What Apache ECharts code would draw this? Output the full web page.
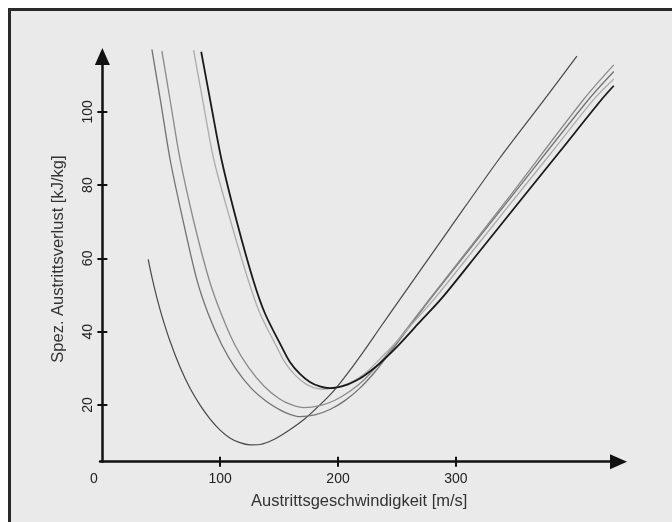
<!DOCTYPE html>
<html>
<head>
<meta charset="utf-8">
<script src="https://cdn.jsdelivr.net/npm/echarts@6/dist/echarts.min.js"></script>
<style>
html,body{margin:0;padding:0;background:#ffffff;}
#chart{width:672px;height:522px;}
</style>
</head>
<body>
<div id="chart"></div>
<script>
// ---- Data ----
var xTickLabels = [0, 100, 200, 300];
var xTickValues = [100, 200, 300];
var yTickLabels = [20, 40, 60, 80, 100];

var xTitle = 'Austrittsgeschwindigkeit [m/s]';
var yTitle = 'Spez. Austrittsverlust [kJ/kg]';

// Curve A (dark gray, lowest minimum ~9)
var curveA = [[38.9,59.75],[42.6,54.1],[46.3,49.2],[50.5,44.3],[57.3,37.5],[65.8,30.4],[74.3,24.6],[82.8,20.0],[91.3,16.2],[99.7,13.2],[108.2,11.0],[116.7,9.7],[125.2,9.1],[133.7,9.2],[146.4,10.7],[159.1,13.2],[171.8,16.2],[184.6,20.0],[197.3,24.2],[210.0,29.4],[222.8,35.1],[235.5,41.0],[252.5,48.8],[294.9,68.2],[337.3,87.4],[374.7,103.2],[402.7,115.2]];
// Curve B (mid gray, minimum ~17)
var curveB = [[42.04,117.05],[49.68,102.4],[57.57,86.85],[68.35,70.48],[80.23,54.11],[89.56,45.1],[101.44,36.37],[113.32,29.82],[126.05,24.64],[138.78,21.09],[151.51,18.5],[159.14,17.41],[167.63,16.78],[180.36,17.27],[193.08,18.74],[205.81,21.17],[218.54,24.58],[231.27,28.98],[239.75,32.44],[252.48,37.87],[277.94,48.76],[344.97,75.94],[412.26,103.22],[434.0,111.0]];
// Curve C (gray, minimum ~19)
var curveC = [[50.53,116.59],[58.17,101.86],[66.06,86.85],[77.68,69.93],[90.67,54.11],[100.59,45.1],[112.47,36.37],[124.35,30.1],[137.08,25.18],[149.81,21.77],[160.84,20.0],[171.02,19.26],[184.6,19.81],[197.33,21.28],[210.05,23.71],[222.79,27.09],[239.75,33.07],[252.48,38.39],[277.94,49.03],[343.28,75.94],[408.02,103.22],[434.0,112.8]];
// Curve D (light gray, minimum ~24)
var curveD = [[77.43,116.86],[85.74,102.13],[94.65,86.85],[109.08,69.93],[123.76,54.11],[133.69,45.02],[147.86,35.91],[154.9,31.6],[163.39,28.19],[171.87,25.87],[178.66,24.77],[186.04,24.28],[197.33,24.64],[210.05,26.0],[222.79,28.59],[235.51,32.55],[248.24,36.78],[265.21,42.92],[280.99,48.65],[311.88,61.06],[348.79,75.94],[379.76,88.35],[416.5,103.2],[434.0,108.95]];
// Curve E (black, minimum ~25)
var curveE = [[83.88,116.4],[92.11,102.13],[101.19,86.85],[114.17,69.93],[128.0,54.11],[137.93,45.02],[152.1,35.91],[159.14,31.73],[167.63,28.46],[176.11,26.28],[184.6,25.05],[193.08,24.56],[205.81,25.32],[218.54,27.23],[227.03,29.14],[235.51,31.38],[248.24,35.28],[269.45,42.65],[287.87,49.06],[320.36,62.02],[355.75,76.21],[388.25,89.17],[423.63,103.36],[433.99,107.12]];

var chart = echarts.init(document.getElementById('chart'), null, {renderer:'canvas'});
var FONT = '"Liberation Sans", Arial, sans-serif';

function line(data, color, width){
  return {type:'line', data:data, smooth:0.3, symbol:'none', clip:false,
    lineStyle:{color:color, width:width}, xAxisIndex:0, yAxisIndex:0, z:3};
}

var option = {
  animation:false,
  backgroundColor:'#ffffff',
  graphic:[{type:'rect', z:-10, silent:true,
    shape:{x:9.5, y:9.5, width:700, height:600},
    style:{fill:'#eaeaea', stroke:'#2a2a2a', lineWidth:3}}],
  grid:{left:100, right:53.5, top:56.5, bottom:60.3, containLabel:false},
  xAxis:[{
    type:'value', min:-2, max:438, position:'bottom',
    splitLine:{show:false},
    axisLine:{show:true, lineStyle:{color:'#111', width:2.5}, symbol:['none','triangle'], symbolSize:[15,17]},
    axisTick:{show:true, inside:false, length:5, lineStyle:{color:'#111', width:2}, customValues:xTickValues},
    axisLabel:{show:true, margin:10, color:'#222', fontSize:14, fontFamily:FONT, customValues:xTickLabels,
      formatter:function(v){ return v===0 ? '{z|0}' : String(v); },
      rich:{z:{fontSize:14, fontFamily:FONT, color:'#222', padding:[0,17,0,0]}}},
    name:xTitle, nameLocation:'middle', nameGap:31,
    nameTextStyle:{color:'#333', fontSize:16.5, fontFamily:FONT}
  },{
    type:'value', min:-2, max:438, position:'bottom',
    splitLine:{show:false}, axisLine:{show:false},
    axisTick:{show:true, inside:true, length:5, lineStyle:{color:'#111', width:2}, customValues:xTickValues},
    axisLabel:{show:false}
  }],
  yAxis:[{
    type:'value', min:4.5, max:115.1, position:'left',
    splitLine:{show:false},
    axisLine:{show:true, lineStyle:{color:'#111', width:2.5}, symbol:['none','triangle'], symbolSize:[15,17]},
    axisTick:{show:true, inside:false, length:5, lineStyle:{color:'#111', width:2}, customValues:yTickLabels},
    axisLabel:{show:true, rotate:90, margin:5, color:'#222', fontSize:14, fontFamily:FONT, customValues:yTickLabels},
    name:yTitle, nameLocation:'middle', nameGap:33.5, nameRotate:90,
    nameTextStyle:{color:'#333', fontSize:16.5, fontFamily:FONT}
  },{
    type:'value', min:4.5, max:115.1, position:'left',
    splitLine:{show:false}, axisLine:{show:false},
    axisTick:{show:true, inside:true, length:5, lineStyle:{color:'#111', width:2}, customValues:yTickLabels},
    axisLabel:{show:false}
  }],
  series:[
    line(curveA, '#484848', 1.2),
    line(curveB, '#727272', 1.3),
    line(curveC, '#8a8a8a', 1.3),
    line(curveD, '#acacac', 1.3),
    line(curveE, '#1a1a1a', 1.8)
  ]
};
chart.setOption(option);
</script>
</body>
</html>
